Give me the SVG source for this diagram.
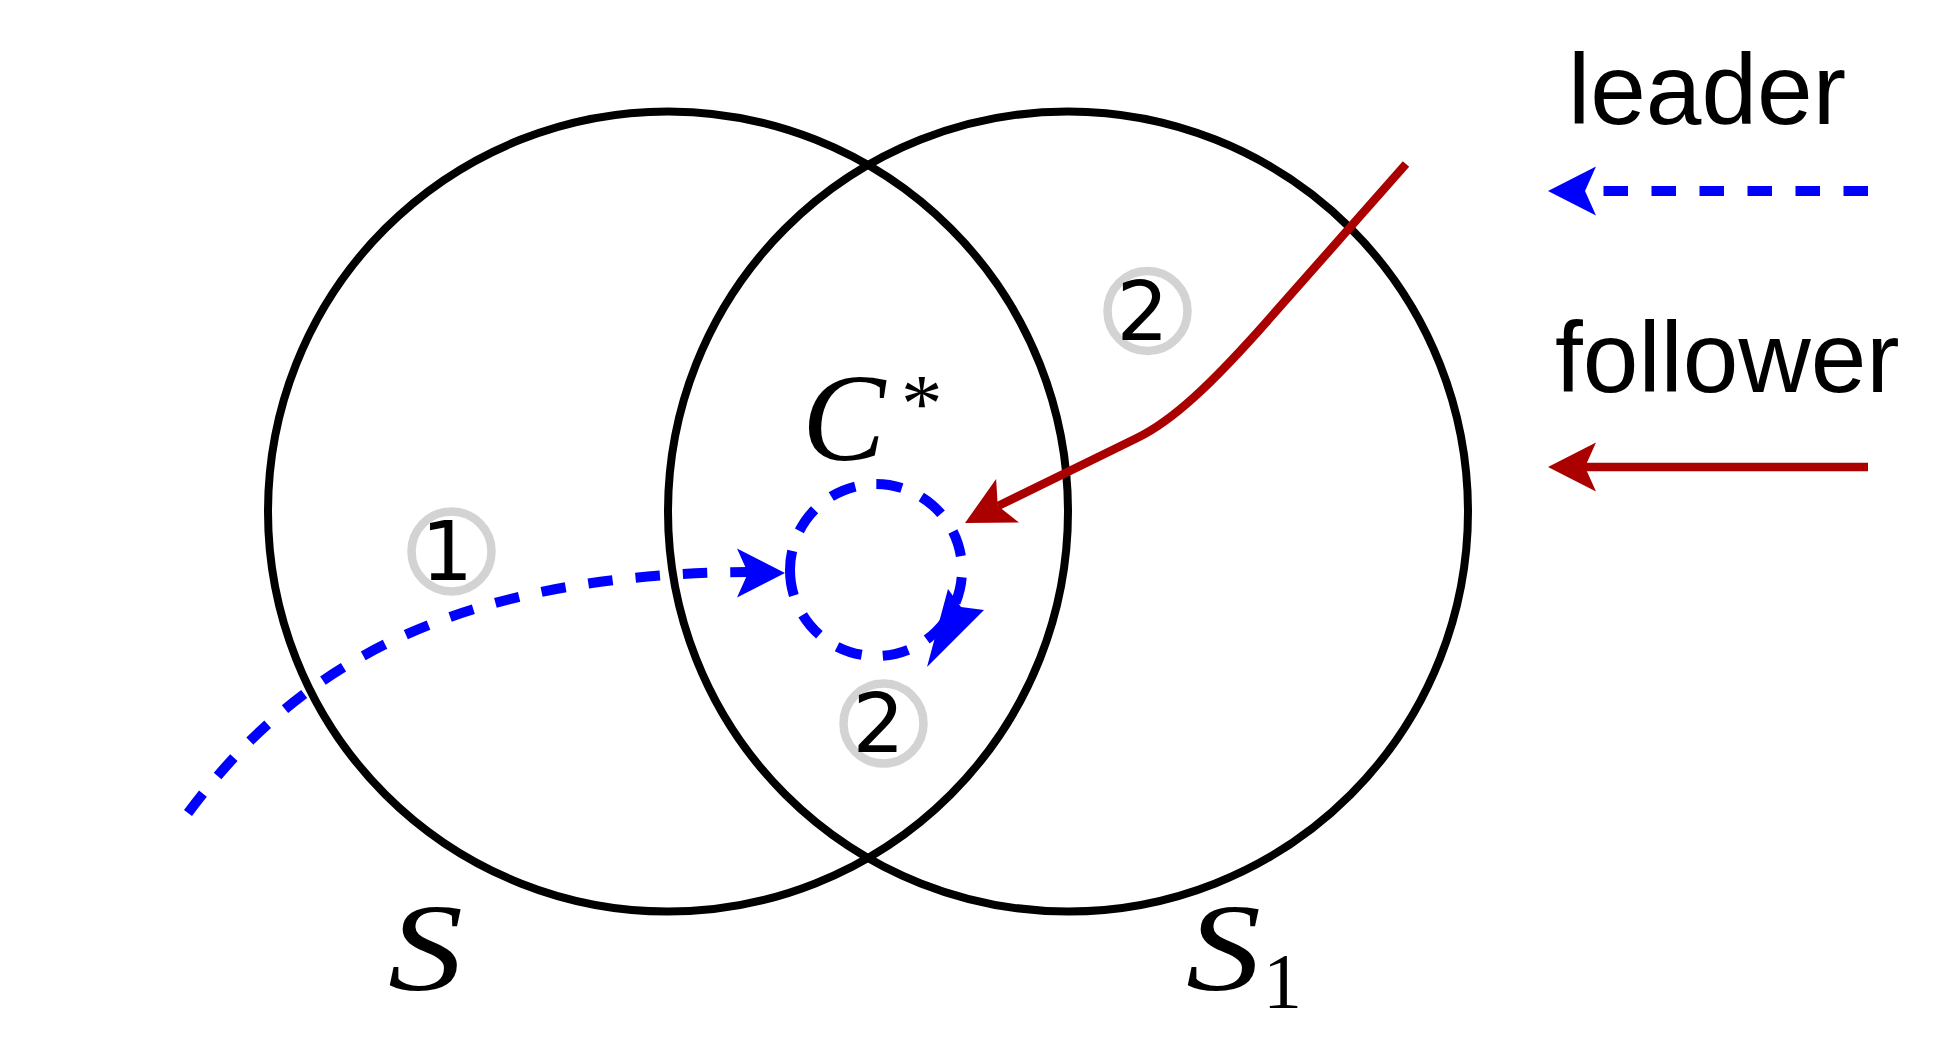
<svg xmlns="http://www.w3.org/2000/svg" xmlns:xlink="http://www.w3.org/1999/xlink" width="1955" height="1050" viewBox="0 0 1955 1050">
<style>
.set{fill:none;stroke:#000;stroke-width:8}
.ring{fill:none;stroke:#d3d3d3;stroke-width:8.5}
.num{font-family:"DejaVu Sans",sans-serif;font-size:82px;fill:#000;text-anchor:middle}
.math{font-family:"Liberation Serif","Times New Roman",serif;font-style:italic;fill:#000}
.up{font-family:"Liberation Serif","Times New Roman",serif;fill:#000}
.leg{font-family:"Liberation Sans",Arial,sans-serif;font-size:100px;fill:#000}
.lead{fill:none;stroke:#0000ff;stroke-width:10}
.foll{fill:none;stroke:#aa0000;stroke-width:8.5}
.bh{fill:#0000ff}
.rh{fill:#aa0000}
</style>
<defs>
<path id="stealth" d="M0,0 L-48,-24.5 L-37,0 L-48,24.5 Z"/>
</defs>
<rect width="1955" height="1050" fill="#fff"/>
<g id="set-S">
<circle class="set" cx="668" cy="511.5" r="400"/>
<text class="math" font-size="125" transform="translate(388,990) scale(1.2,1)">S</text>
</g>
<g id="set-S1">
<circle class="set" cx="1068" cy="511.5" r="400"/>
<text class="math" font-size="125" transform="translate(1186,990) scale(1.2,1)">S</text>
<text class="up" x="1263" y="1007" font-size="78">1</text>
</g>
<g id="target-C">
<text class="math" x="802" y="460" font-size="125">C</text>
<text class="up" x="901" y="431" font-size="83">*</text>
</g>
<g id="step-1">
<circle class="ring" cx="451.5" cy="551.5" r="40"/>
<text class="num" x="447" y="580">1</text>
</g>
<g id="step-2-follower">
<circle class="ring" cx="1147.5" cy="311" r="40"/>
<text class="num" x="1142.5" y="340">2</text>
</g>
<g id="step-2-leader">
<circle class="ring" cx="883.5" cy="723.5" r="40"/>
<text class="num" x="878.5" y="752">2</text>
</g>
<g id="connectors">
<path class="lead" stroke-dasharray="24.5 23" d="M188,813 C280,690 420,574 748,572"/>
<use xlink:href="#stealth" href="#stealth" class="bh" transform="translate(785,573)"/>
<path class="lead" stroke-dasharray="26 21.3" stroke-dashoffset="6.7" d="M790,570 A86,86 0 1 1 962,570 A86,86 0 1 1 790,570"/>
<polygon class="bh" points="927,667 948,589 961,607 984,610"/>
<path class="foll" d="M1406,164 L1270,318 C1210,386 1172,421 1137,438 L998,506"/>
<use xlink:href="#stealth" href="#stealth" class="rh" transform="translate(965,523) rotate(152.3)"/>
</g>
<g id="legend">
<text class="leg" x="1568" y="124">leader</text>
<path class="lead" stroke-dasharray="24.5 23.5" d="M1868,191 L1585,191"/>
<use xlink:href="#stealth" href="#stealth" class="bh" transform="translate(1548,191) rotate(180)"/>
<text class="leg" x="1555" y="392">follower</text>
<path class="foll" d="M1868,467 L1585,467"/>
<use xlink:href="#stealth" href="#stealth" class="rh" transform="translate(1548,467) rotate(180)"/>
</g>
</svg>
